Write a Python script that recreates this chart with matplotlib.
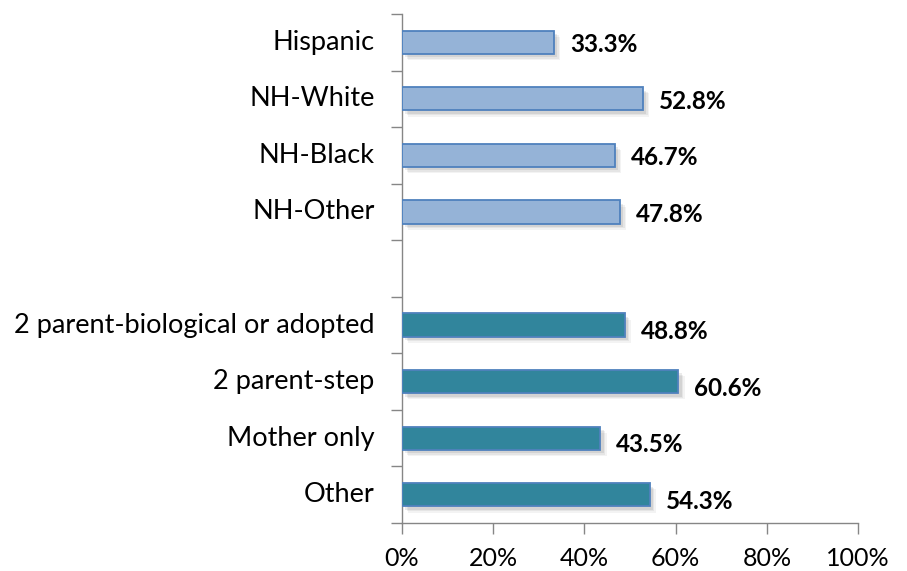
import matplotlib
matplotlib.use("Agg")
import matplotlib.pyplot as plt
import numpy as np

# Share of youth in each group, race/ethnicity block then family structure block
race_labels = ["Hispanic", "NH-White", "NH-Black", "NH-Other"]
race_values = [33.3, 52.8, 46.7, 47.8]
family_labels = ["2 parent-biological or adopted", "2 parent-step", "Mother only", "Other"]
family_values = [48.8, 60.6, 43.5, 54.3]
x_ticks = [0, 20, 40, 60, 80, 100]

plt.rcParams["font.family"] = ["Lato", "DejaVu Sans"]

fig = plt.figure(figsize=(9.07, 5.71), dpi=100)
ax = fig.add_axes([0.4432, 0.0841, 0.5028, 0.8914])

n_slots = len(race_labels) + 1 + len(family_labels)
race_pos = np.arange(len(race_labels))
family_pos = np.arange(len(family_labels)) + len(race_labels) + 1
bar_h = 0.41


def draw_group(pos, vals, face, edge, label_dy):
    # soft drop shadow: a few offset translucent layers
    for k, a in enumerate([0.10, 0.08, 0.06]):
        off = 0.7 + k * 0.35
        ax.barh(pos + 0.06 + k * 0.025, vals, height=bar_h, left=off,
                color="#404040", alpha=a, lw=0, zorder=1)
    ax.barh(pos, vals, height=bar_h, color=face, edgecolor=edge, lw=1.3, zorder=3)
    for p, v in zip(pos, vals):
        ax.text(v + 3.5, p + label_dy, f"{v:.1f}%", ha="left", va="center",
                fontsize=17.5, fontweight="bold", color="black", zorder=4)


draw_group(race_pos, race_values, "#95B3D7", "#4F81BD", 0.04)
draw_group(family_pos, family_values, "#31859C", "#4F81BD", 0.12)

ax.set_xlim(0, 100)
ax.set_ylim(n_slots - 0.5, -0.5)
ax.set_xticks(x_ticks)
ax.set_xticklabels([f"{t}%" for t in x_ticks], fontsize=18)

ax.set_yticks(np.arange(n_slots + 1) - 0.5)
ax.set_yticklabels([])
for p, lab in zip(list(race_pos) + list(family_pos), race_labels + family_labels):
    ax.text(-0.06, p, lab, transform=ax.get_yaxis_transform(), ha="right",
            va="center", fontsize=19.5, color="black")

for side in ["top", "right"]:
    ax.spines[side].set_visible(False)
for side in ["left", "bottom"]:
    ax.spines[side].set_color("#868686")
    ax.spines[side].set_linewidth(1.0)
ax.tick_params(axis="both", colors="#868686", length=8, width=1.0, labelcolor="black")
ax.tick_params(axis="x", pad=9)

fig.savefig("out.png", dpi=100)
